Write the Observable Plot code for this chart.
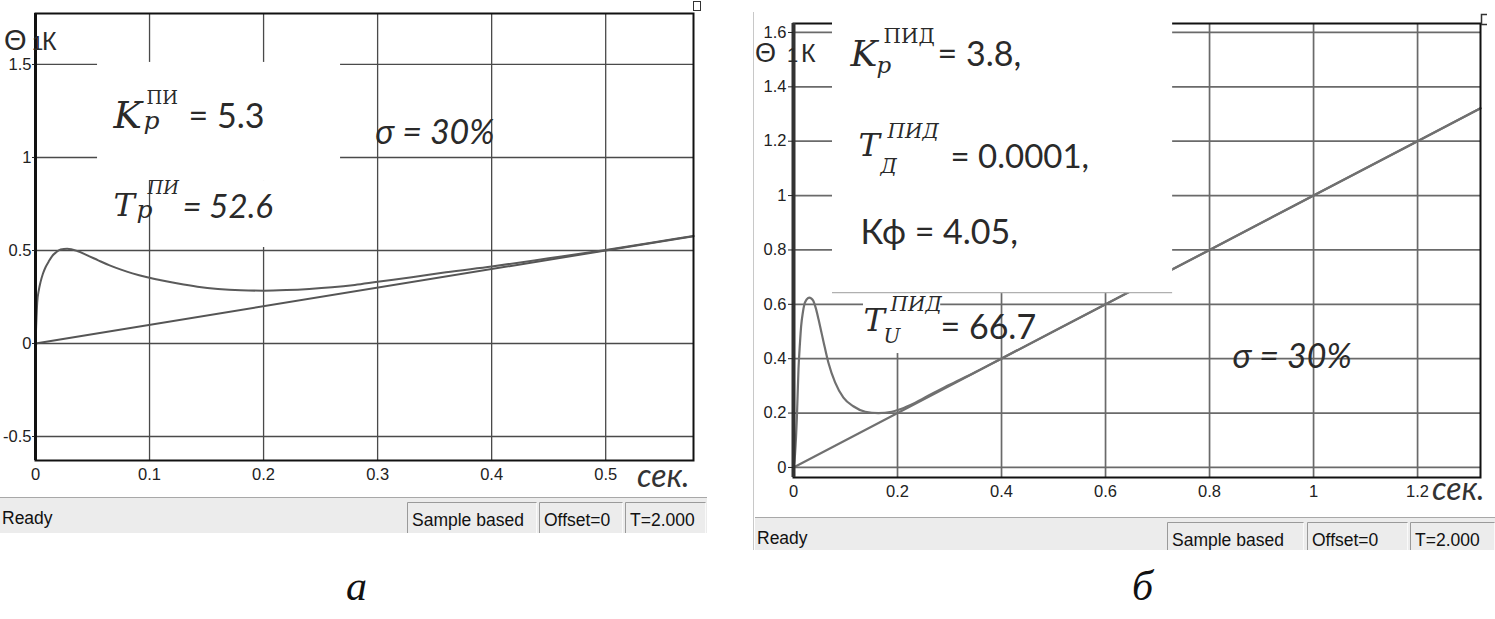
<!DOCTYPE html>
<html><head><meta charset="utf-8">
<script src="https://cdn.jsdelivr.net/npm/d3@7"></script>
<script src="https://cdn.jsdelivr.net/npm/@observablehq/plot@0.6"></script>
<style>
html,body{margin:0;padding:0;background:#fff;}
#root{position:relative;width:1495px;height:619px;overflow:hidden;background:#fff;}
#root svg{position:absolute;}
</style></head><body><div id="root"></div>
<script>
// ---------- data: panel а (PI controller) ----------
const xTicksA = [0, 0.1, 0.2, 0.3, 0.4, 0.5];
const yTicksA = [-0.5, 0, 0.5, 1, 1.5];
const xDomainA = [0, 0.577];
const yDomainA = [-0.629, 1.774];
const tRampA = [0, 0.577];
const vRampA = [0, 0.577];
const tRespA = [0, 0.0005, 0.0015, 0.003, 0.0044, 0.0065, 0.0088, 0.0115, 0.0146, 0.018, 0.022, 0.0278, 0.0366, 0.045, 0.055, 0.065, 0.075, 0.085, 0.098, 0.11, 0.125, 0.142, 0.16, 0.18, 0.2, 0.22, 0.24, 0.26, 0.28, 0.3, 0.33, 0.36, 0.4, 0.45, 0.5, 0.54, 0.577];
const vRespA = [0, 0.08, 0.22, 0.29, 0.33, 0.375, 0.41, 0.44, 0.47, 0.49, 0.505, 0.509, 0.497, 0.475, 0.447, 0.42, 0.397, 0.377, 0.356, 0.34, 0.322, 0.305, 0.293, 0.286, 0.284, 0.287, 0.293, 0.302, 0.315, 0.332, 0.356, 0.383, 0.414, 0.458, 0.503, 0.542, 0.578];
const formulaKA = ["K", "p", "ПИ", "= 5.3"];
const formulaTA = ["T", "p", "ПИ", "= 52.6"];
const sigmaText = "σ = 30%";

// ---------- data: panel б (PID controller) ----------
const xTicksB = [0, 0.2, 0.4, 0.6, 0.8, 1, 1.2];
const yTicksB = [0, 0.2, 0.4, 0.6, 0.8, 1, 1.2, 1.4, 1.6];
const xDomainB = [0, 1.321];
const yDomainB = [-0.037, 1.633];
const tRampB = [0, 1.321];
const vRampB = [0, 1.321];
const tRespB = [0, 0.003, 0.0064, 0.0096, 0.0125, 0.0147, 0.018, 0.021, 0.025, 0.030, 0.034, 0.038, 0.043, 0.048, 0.053, 0.058, 0.067, 0.08, 0.096, 0.115, 0.138, 0.163, 0.189, 0.202, 0.225, 0.247, 0.27, 0.298, 0.35, 0.4, 0.6, 0.8, 1.0, 1.2, 1.321];
const vRespB = [0, 0.05, 0.178, 0.362, 0.46, 0.52, 0.57, 0.60, 0.617, 0.625, 0.622, 0.613, 0.585, 0.546, 0.503, 0.46, 0.386, 0.313, 0.257, 0.225, 0.205, 0.2, 0.205, 0.212, 0.23, 0.251, 0.275, 0.302, 0.351, 0.401, 0.6, 0.8, 1.0, 1.2, 1.321];
const formulaKB = ["K", "p", "ПИД", "= 3.8,"];
const formulaDB = ["T", "Д", "ПИД", "= 0.0001,"];
const formulaFB = "Кф = 4.05,";
const formulaUB = ["T", "U", "ПИД", "= 66.7"];

// status bar / captions
const statusTexts = ["Ready", "Sample based", "Offset=0", "T=2.000"];
const axisUnit = ["Θ", "1", "К"];
const timeUnit = "сек.";
const captions = ["а", "б"];

// ---------- helpers ----------
const rows = (ts, vs) => ts.map((t, i) => ({t, v: vs[i]}));
const SERIF = "DejaVu Serif, Liberation Serif, serif";
const SANS = "Lato, Open Sans, sans-serif";
const INK = "#2a2a2a";

function piece(anchor, s, dx, dy, family, size, style = "normal") {
  return Plot.text([{x: anchor[0], y: anchor[1], s}], {
    x: "x", y: "y", text: "s", dx, dy,
    fontFamily: family, fontSize: size, fontStyle: style,
    textAnchor: "start", lineAnchor: "bottom", fill: INK
  });
}

const root = document.getElementById("root");

// ---------- panel а ----------
const masksA = [
  {x1: 0.0544, x2: 0.2675, y1: 0.876, y2: 1.511},
  {x1: 0.1096, x2: 0.2675, y1: 0.516, y2: 0.876}
];
const aK = [0.0684, 1.161], aT = [0.0684, 0.688], aS = [0.298, 1.075];

const plotA = Plot.plot({
  width: 710, height: 500,
  marginLeft: 35, marginRight: 17, marginTop: 13, marginBottom: 40,
  x: {domain: xDomainA}, y: {domain: yDomainA},
  style: {fontFamily: "Liberation Sans, Arial, sans-serif", fontSize: "16px", color: "#222", background: "transparent", overflow: "visible"},
  marks: [
    Plot.gridX(xTicksA, {stroke: "#4a4a4a", strokeOpacity: 1, strokeWidth: 1.3}),
    Plot.gridY(yTicksA, {stroke: "#4a4a4a", strokeOpacity: 1, strokeWidth: 1.3}),
    Plot.line(rows(tRampA, vRampA), {x: "t", y: "v", stroke: "#555", strokeWidth: 2}),
    Plot.line(rows(tRespA, vRespA), {x: "t", y: "v", stroke: "#5a5a5a", strokeWidth: 2, curve: "monotone-x"}),
    Plot.frame({stroke: "#111", strokeWidth: 2}),
    Plot.ruleX([0], {stroke: "#111", strokeWidth: 3}),
    Plot.axisX(xTicksA, {tickSize: 0, tickPadding: 8, fontSize: 16.5, fill: "#222", tickFormat: d => String(d)}),
    Plot.axisY(yTicksA, {tickSize: 3, tickPadding: 1, fontSize: 16.5, fill: "#222", tickFormat: d => String(d)}),
    Plot.rect(masksA, {x1: "x1", x2: "x2", y1: "y1", y2: "y2", fill: "white"}),
    piece(aK, formulaKA[0], 0, 0, SERIF, 38, "italic"),
    piece(aK, formulaKA[1], 30, 1, SERIF, 25, "italic"),
    piece(aK, formulaKA[2], 33, -24, SERIF, 18),
    piece(aK, formulaKA[3], 75, 0, SANS, 34),
    piece(aT, formulaTA[0], 0, 0, SERIF, 32, "italic"),
    piece(aT, formulaTA[1], 23, 2, SERIF, 25, "italic"),
    piece(aT, formulaTA[2], 34, -22, SERIF, 18, "italic"),
    piece(aT, formulaTA[3], 69, 2, SANS, 33, "italic"),
    piece(aS, sigmaText, 0, 0, SANS, 34, "italic")
  ]
});
plotA.style.left = "0px"; plotA.style.top = "0px";
root.appendChild(plotA);

// ---------- panel б ----------
const masksB = [
  {x1: 0.075, x2: 0.729, y1: 0.643, y2: 1.70},
  {x1: 0.1346, x2: 0.283, y1: 0.419, y2: 0.64}
];
const edgeB = [{y: 0.643, x1: 0.075, x2: 0.729}];
const bK = [0.1096, 1.478], bD = [0.125, 1.147], bF = [0.1288, 0.8235], bU = [0.1346, 0.5037], bS = [0.844, 0.364];

const plotB = Plot.plot({
  width: 755, height: 517,
  marginLeft: 53, marginRight: 15, marginTop: 23, marginBottom: 40,
  x: {domain: xDomainB}, y: {domain: yDomainB},
  style: {fontFamily: "Liberation Sans, Arial, sans-serif", fontSize: "16px", color: "#222", background: "transparent", overflow: "visible"},
  marks: [
    Plot.gridX(xTicksB, {stroke: "#6a6a6a", strokeOpacity: 1, strokeWidth: 1.7}),
    Plot.gridY(yTicksB, {stroke: "#6a6a6a", strokeOpacity: 1, strokeWidth: 1.7}),
    Plot.line(rows(tRampB, vRampB), {x: "t", y: "v", stroke: "#707070", strokeWidth: 2.2}),
    Plot.line(rows(tRespB, vRespB), {x: "t", y: "v", stroke: "#707070", strokeWidth: 2.2, curve: "monotone-x"}),
    Plot.frame({stroke: "#111", strokeWidth: 2}),
    Plot.ruleX([0], {stroke: "#333", strokeWidth: 4}),
    Plot.axisX(xTicksB, {tickSize: 0, tickPadding: 8, fontSize: 16.5, fill: "#222", tickFormat: d => String(d)}),
    Plot.axisY(yTicksB, {tickSize: 5, tickPadding: 2, fontSize: 16.5, fill: "#222", tickFormat: d => String(d)}),
    Plot.rect(masksB, {x1: "x1", x2: "x2", y1: "y1", y2: "y2", fill: "white"}),
    Plot.ruleY(edgeB, {y: "y", x1: "x1", x2: "x2", stroke: "#b0b0b0", strokeWidth: 1.2}),
    piece(bK, formulaKB[0], 0, 0, SERIF, 36, "italic"),
    piece(bK, formulaKB[1], 26, 7, SERIF, 23, "italic"),
    piece(bK, formulaKB[2], 33, -23, SERIF, 20),
    piece(bK, formulaKB[3], 87, 0, SANS, 34),
    piece(bD, formulaDB[0], 0, 0, SERIF, 32, "italic"),
    piece(bD, formulaDB[1], 22, 17, SERIF, 20, "italic"),
    piece(bD, formulaDB[2], 29, -18, SERIF, 20, "italic"),
    piece(bD, formulaDB[3], 92, 12, SANS, 33),
    piece(bF, formulaFB, 0, 0, SANS, 34),
    piece(bU, formulaUB[0], 0, 0, SERIF, 32, "italic"),
    piece(bU, formulaUB[1], 20, 12, SERIF, 20, "italic"),
    piece(bU, formulaUB[2], 27, -20, SERIF, 20, "italic"),
    piece(bU, formulaUB[3], 77, 8, SANS, 34),
    piece(bS, sigmaText, 0, 0, SANS, 34, "italic")
  ]
});
plotB.style.left = "740px"; plotB.style.top = "0px";
root.appendChild(plotB);

// ---------- overlay: unit labels, status bars, captions ----------
const ov = d3.select(root).append("svg")
  .attr("width", 1495).attr("height", 619)
  .style("left", "0px").style("top", "0px").style("pointer-events", "none");

function txt(x, y, s, size, family, style = "normal", fill = INK) {
  ov.append("text").attr("x", x).attr("y", y).text(s)
    .attr("font-size", size).attr("font-family", family)
    .attr("font-style", style).attr("fill", fill);
}

// window border of right panel
ov.append("line").attr("x1", 753.5).attr("x2", 753.5).attr("y1", 12).attr("y2", 550)
  .attr("stroke", "#c8c8c8").attr("stroke-width", 1);

// small corner icons
ov.append("rect").attr("x", 693.5).attr("y", 1.5).attr("width", 7).attr("height", 9)
  .attr("fill", "none").attr("stroke", "#333").attr("stroke-width", 1);
ov.append("path").attr("d", "M1487,14.5 H1481.5 V24.5 H1487")
  .attr("fill", "none").attr("stroke", "#333").attr("stroke-width", 1.5);

// Θ, К labels
const SANSL = "Liberation Sans, Arial, sans-serif";
txt(4, 50, axisUnit[0], 29, SANSL);
txt(32, 50, axisUnit[1], 20, SANSL);
txt(42, 50, axisUnit[2], 25, SANSL);
txt(755, 62, axisUnit[0], 27, SANSL);
txt(787, 62, axisUnit[1], 20, SANSL);
txt(801, 62, axisUnit[2], 25, SANSL);

// time unit
txt(637, 487, timeUnit, 32, SANS, "italic", "#333");
txt(1432, 500, timeUnit, 32, SANS, "italic", "#333");

// status bars
function statusBar(x0, y0, w, h, boxes) {
  ov.append("rect").attr("x", x0).attr("y", y0).attr("width", w).attr("height", h).attr("fill", "#ececec");
  ov.append("line").attr("x1", x0).attr("x2", x0 + w).attr("y1", y0 + 0.5).attr("y2", y0 + 0.5)
    .attr("stroke", "#a8a8a8").attr("stroke-width", 1);
  txt(x0 + 2, y0 + 27, statusTexts[0], 17.5, SANSL, "normal", "#111");
  boxes.forEach((b, i) => {
    ov.append("path")
      .attr("d", `M${b[0] + 0.5},${y0 + h} V${y0 + 5.5} H${b[1] - 0.5}`)
      .attr("fill", "none").attr("stroke", "#9a9a9a").attr("stroke-width", 1);
    ov.append("line").attr("x1", b[1] - 0.5).attr("x2", b[1] - 0.5).attr("y1", y0 + 6).attr("y2", y0 + h)
      .attr("stroke", "#fafafa").attr("stroke-width", 1);
    txt(b[0] + 5, y0 + 29, statusTexts[i + 1], 17.5, SANSL, "normal", "#111");
  });
}
statusBar(0, 497, 707, 36, [[407, 537], [539, 623], [625, 706]]);
statusBar(755, 517, 740, 33, [[1167, 1304], [1307, 1408], [1410, 1495]]);

// captions
txt(346, 600, captions[0], 42, "Liberation Serif, Times New Roman, serif", "italic", "#111");
txt(1132, 600, captions[1], 42, "Liberation Serif, Times New Roman, serif", "italic", "#111");
</script>
</body></html>
